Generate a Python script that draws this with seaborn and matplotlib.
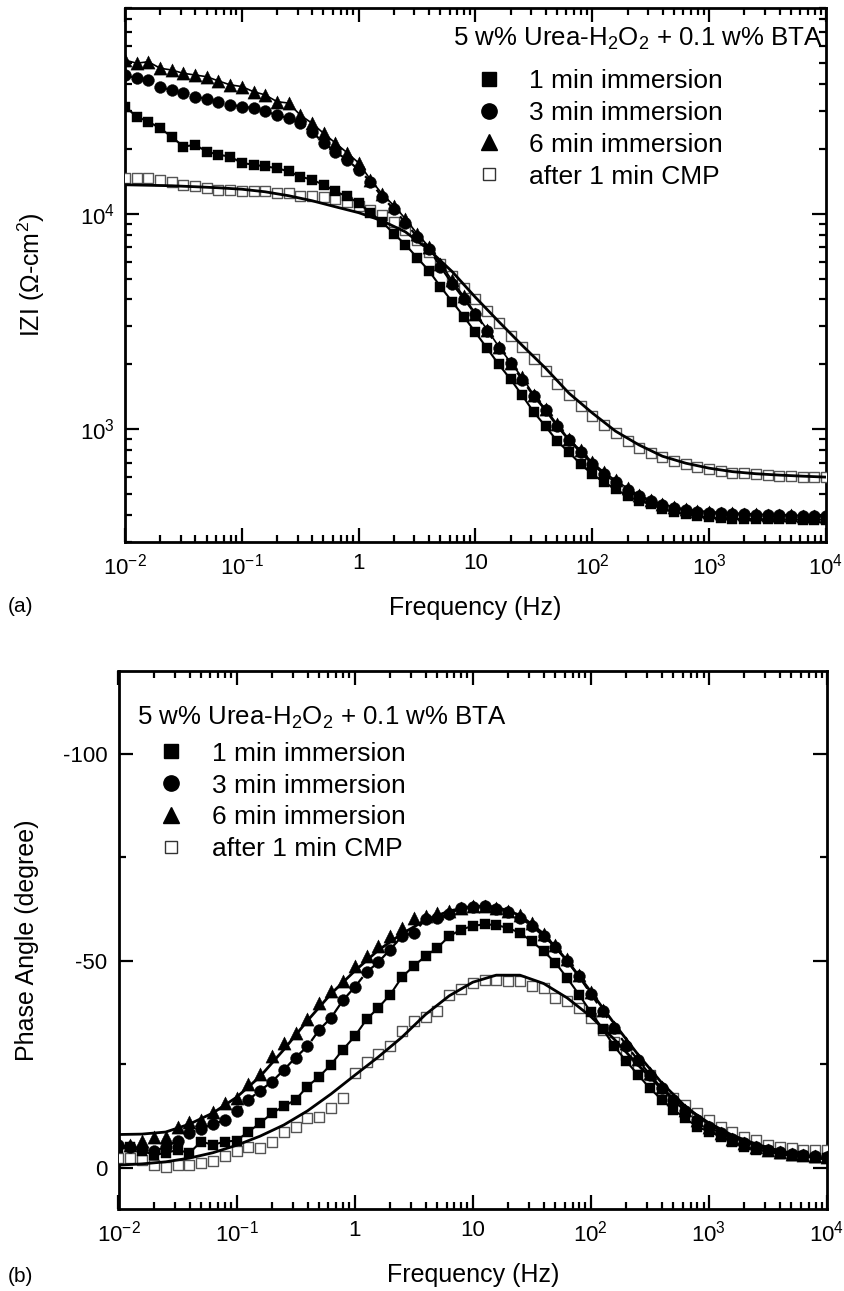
import numpy as np
import pandas as pd
import matplotlib
matplotlib.use("Agg")
import matplotlib.pyplot as plt
import seaborn as sns
from matplotlib.ticker import LogLocator, FixedLocator, FixedFormatter, MultipleLocator, NullFormatter
from matplotlib.lines import Line2D

# ---------------- data ----------------
freq = [0.01, 0.0126, 0.0158, 0.02, 0.0251, 0.0316, 0.0398, 0.0501, 0.0631, 0.0794,
        0.1, 0.126, 0.158, 0.2, 0.251, 0.316, 0.398, 0.501, 0.631, 0.794,
        1.0, 1.26, 1.58, 2.0, 2.51, 3.16, 3.98, 5.01, 6.31, 7.94,
        10.0, 12.6, 15.8, 20.0, 25.1, 31.6, 39.8, 50.1, 63.1, 79.4,
        100, 126, 158, 200, 251, 316, 398, 501, 631, 794,
        1000, 1260, 1580, 2000, 2510, 3160, 3980, 5010, 6310, 7940, 10000]

freq_fit = [0.01, 0.0158, 0.0251, 0.0398, 0.0631, 0.1, 0.158, 0.251, 0.398, 0.631,
            1.0, 1.58, 2.51, 3.98, 6.31, 10.0, 15.8, 25.1, 39.8, 63.1,
            100, 158, 251, 398, 631, 1000, 1580, 2510, 3980, 6310, 10000]

series_labels = ["1 min immersion", "3 min immersion", "6 min immersion", "after 1 min CMP"]
legend_title = "5 w% Urea-H$_2$O$_2$ + 0.1 w% BTA"

# |Z| (ohm-cm2)
z_1min = [31400, 28200, 26750, 24930, 22730, 20490, 20860, 19430, 18760, 18420,
          17170, 16900, 16560, 16280, 15700, 14880, 14370, 13630, 12690, 12030,
          11210, 10110, 9180, 8080, 7190, 6260, 5450, 4590, 3910, 3335,
          2812, 2371, 2000, 1704, 1437, 1199, 1032, 880, 782, 689,
          619, 568, 528, 490, 464, 450, 426, 413, 404, 396,
          391, 387, 385, 384, 383, 383, 382, 382, 381, 381, 381]
z_3min = [44000, 42500, 41700, 38600, 37500, 36200, 34900, 34000, 33100, 32000,
          31400, 30900, 29800, 28700, 27700, 26300, 24000, 21300, 19400, 17800,
          16000, 14100, 12000, 10500, 9090, 7830, 6890, 5680, 4740, 4040,
          3410, 2870, 2370, 2020, 1700, 1420, 1225, 1032, 889, 782,
          689, 619, 568, 522, 490, 464, 445, 431, 422, 415,
          411, 409, 406, 404, 402, 400, 400, 398, 398, 396, 396]
z_6min = [51600, 49900, 50700, 47300, 46400, 44800, 44000, 43200, 41300, 39600,
          38900, 36800, 35600, 33100, 32600, 28700, 26300, 23600, 21300, 19200,
          17200, 14400, 12400, 10900, 9480, 8080, 7040, 5870, 4900, 4130,
          3440, 2900, 2420, 2040, 1740, 1440, 1240, 1054, 899, 799,
          703, 632, 580, 533, 495, 469, 450, 435, 426, 419,
          415, 411, 409, 406, 404, 402, 400, 400, 398, 398, 396]
z_cmp = [14630, 14630, 14600, 14370, 13960, 13620, 13380, 13150, 12920, 12920,
         12680, 12680, 12680, 12470, 12470, 12030, 12030, 11920, 11730, 11370,
         10810, 10440, 9890, 9180, 8430, 7580, 6670, 5870, 5160, 4540,
         4000, 3520, 3100, 2700, 2400, 2110, 1860, 1630, 1440, 1280,
         1150, 1050, 965, 882, 823, 780, 740, 713, 689, 665,
         653, 641, 630, 630, 619, 613, 608, 606, 603, 600, 599]
z_cmp_fit = [13620, 13550, 13480, 13340, 13190, 12990, 12640, 12120, 11490, 10770,
             10110, 9280, 8240, 6810, 5390, 4090, 3160, 2450, 1920, 1470,
             1190, 980, 846, 750, 696, 660, 636, 622, 613, 606, 600]

# phase angle (degree)
p_1min = [-4.7, -5.1, -4.0, -3.1, -3.5, -4.3, -3.5, -6.3, -5.5, -6.3,
          -6.5, -8.7, -10.7, -13.2, -14.8, -16.4, -19.6, -22.0, -24.9, -28.5,
          -31.7, -35.8, -38.6, -41.8, -46.0, -48.7, -51.1, -53.1, -55.9, -57.5,
          -58.4, -58.8, -58.6, -57.9, -56.7, -54.7, -52.3, -49.5, -45.8, -41.8,
          -37.6, -33.5, -29.3, -25.7, -22.4, -19.2, -16.4, -14.0, -11.9, -9.9,
          -8.7, -7.5, -6.3, -5.1, -4.3, -3.9, -3.2, -2.9, -2.7, -2.4, -2.3]
p_3min = [-5.5, -5.0, -4.5, -4.0, -5.0, -6.5, -8.3, -9.4, -10.5, -11.5,
          -13.6, -16.4, -18.6, -20.8, -23.6, -26.6, -29.3, -33.3, -36.2, -40.4,
          -43.6, -47.2, -49.6, -52.7, -55.9, -56.7, -60.0, -60.4, -61.2, -62.8,
          -63.0, -63.2, -62.6, -61.8, -60.4, -58.4, -55.9, -53.3, -49.9, -46.2,
          -42.0, -37.8, -33.7, -29.5, -26.0, -22.5, -19.2, -16.3, -13.7, -11.5,
          -9.8, -8.3, -7.0, -5.9, -5.0, -4.3, -3.7, -3.3, -3.0, -2.7, -2.5]
p_6min = [-6.3, -5.5, -6.5, -7.5, -7.5, -9.9, -11.1, -11.5, -13.5, -15.6,
          -16.8, -20.2, -22.6, -26.9, -30.1, -32.5, -35.8, -39.8, -42.6, -45.0,
          -48.7, -51.1, -53.5, -55.9, -57.9, -60.4, -60.8, -61.6, -62.0, -62.8,
          -63.2, -63.2, -62.8, -62.0, -61.0, -59.0, -56.5, -53.8, -50.3, -46.5,
          -42.5, -38.2, -34.0, -30.0, -26.3, -22.8, -19.5, -16.5, -13.9, -11.6,
          -9.8, -8.3, -7.0, -5.9, -5.0, -4.3, -3.7, -3.3, -3.0, -2.7, -2.5]
p_cmp = [-2.3, -2.3, -1.9, -0.6, -0.2, -0.6, -0.6, -1.0, -1.6, -2.7,
         -3.9, -5.1, -4.7, -6.3, -8.7, -9.9, -11.9, -12.3, -14.5, -16.8,
         -22.8, -25.5, -27.5, -29.5, -33.0, -35.5, -36.5, -37.8, -41.8, -43.2,
         -44.6, -45.4, -45.4, -45.2, -45.0, -43.8, -43.4, -41.0, -40.2, -38.6,
         -36.2, -33.3, -30.4, -27.3, -24.9, -22.4, -18.4, -16.8, -15.2, -13.2,
         -11.5, -9.9, -8.7, -7.5, -6.7, -5.5, -5.1, -4.7, -4.3, -4.3, -4.3]
p_6min_fit = [-8.0, -8.1, -8.6, -10.5, -13.2, -17.0, -22.0, -28.5, -35.5, -42.0,
              -47.5, -52.5, -56.5, -59.8, -62.0, -63.2, -63.0, -61.0, -56.5, -50.0,
              -42.5, -34.8, -27.3, -20.5, -14.8, -10.5, -7.4, -5.4, -4.0, -2.9, -2.1]
p_cmp_fit = [-0.6, -0.9, -1.4, -2.3, -3.6, -5.4, -7.6, -10.3, -13.7, -17.8,
             -22.3, -26.7, -31.5, -37.0, -41.5, -44.8, -46.5, -46.5, -44.5, -41.0,
             -36.5, -31.0, -24.8, -19.0, -14.5, -10.8, -7.8, -5.7, -4.0, -2.9, -2.0]

x_tick_vals = [0.01, 0.1, 1, 10, 100, 1000, 10000]
x_tick_labels = ["10$^{-2}$", "10$^{-1}$", "1", "10", "10$^{2}$", "10$^{3}$", "10$^{4}$"]
ya_tick_vals = [1000, 10000]
ya_tick_labels = ["10$^{3}$", "10$^{4}$"]
yb_tick_vals = [-100, -50, 0]
yb_tick_labels = ["-100", "-50", "0"]

# ---------------- style ----------------
sns.set_theme(style="ticks")
plt.rcParams.update({
    "font.family": ["Liberation Sans", "DejaVu Sans"],
    "mathtext.fontset": "custom",
    "mathtext.rm": "Liberation Sans",
    "mathtext.it": "Liberation Sans:italic",
    "mathtext.bf": "Liberation Sans:bold",
    "axes.unicode_minus": False,
    "axes.linewidth": 2.0,
    "axes.edgecolor": "black",
    "xtick.color": "black",
    "ytick.color": "black",
    "text.color": "black",
    "axes.labelcolor": "black",
    "legend.numpoints": 1,
})

fig = plt.figure(figsize=(8.44, 12.91), dpi=100)
W, H = 844, 1291
ax_a = fig.add_axes([125 / W, 1 - 542 / H, 701 / W, 534 / H])
ax_b = fig.add_axes([118.5 / W, 1 - 1209 / H, 708.5 / W, 538 / H])

mag = pd.DataFrame({"freq": freq, series_labels[0]: z_1min, series_labels[1]: z_3min,
                    series_labels[2]: z_6min, series_labels[3]: z_cmp})
pha = pd.DataFrame({"freq": freq, series_labels[0]: p_1min, series_labels[1]: p_3min,
                    series_labels[2]: p_6min, series_labels[3]: p_cmp})
mag_fit = pd.DataFrame({"freq": freq_fit, "cmp": z_cmp_fit})
pha_fit = pd.DataFrame({"freq": freq_fit, "six": p_6min_fit, "cmp": p_cmp_fit})

marker_map = {series_labels[0]: "s", series_labels[1]: "o", series_labels[2]: "^", series_labels[3]: "s"}
size_map = {series_labels[0]: 62, series_labels[1]: 72, series_labels[2]: 90, series_labels[3]: 62}

for ax in (ax_a, ax_b):
    ax.set_xscale("log")
ax_a.set_yscale("log")


def draw_markers(ax, df):
    for lab in series_labels:
        if lab == series_labels[3]:
            sns.scatterplot(data=df, x="freq", y=lab, marker="s", s=size_map[lab],
                            color="white", facecolor="white", edgecolor="#555555",
                            linewidth=1.0, ax=ax, zorder=3, legend=False)
        else:
            sns.scatterplot(data=df, x="freq", y=lab, marker=marker_map[lab], s=size_map[lab],
                            color="black", edgecolor="black", linewidth=0.3,
                            ax=ax, zorder=4, legend=False)


# panel (a)
draw_markers(ax_a, mag)
sns.lineplot(data=mag, x="freq", y=series_labels[0], color="black", lw=1.5, ax=ax_a,
             sort=False, estimator=None, zorder=5)
sns.lineplot(data=mag, x="freq", y=series_labels[1], color="black", lw=1.6, ax=ax_a,
             sort=False, estimator=None, linestyle=(0, (5, 3)), zorder=5)
sns.lineplot(data=mag, x="freq", y=series_labels[2], color="black", lw=1.2, ax=ax_a,
             sort=False, estimator=None, zorder=5)
sns.lineplot(data=mag_fit, x="freq", y="cmp", color="black", lw=2.0, ax=ax_a,
             sort=False, estimator=None, zorder=5)

# panel (b)
draw_markers(ax_b, pha)
sns.lineplot(data=pha, x="freq", y=series_labels[0], color="black", lw=1.5, ax=ax_b,
             sort=False, estimator=None, zorder=5)
sns.lineplot(data=pha, x="freq", y=series_labels[1], color="black", lw=1.6, ax=ax_b,
             sort=False, estimator=None, linestyle=(0, (5, 3)), zorder=5)
sns.lineplot(data=pha_fit, x="freq", y="six", color="black", lw=2.0, ax=ax_b,
             sort=False, estimator=None, zorder=5)
sns.lineplot(data=pha_fit, x="freq", y="cmp", color="black", lw=2.0, ax=ax_b,
             sort=False, estimator=None, zorder=5)

# axes formatting
TICKFS = 16
LABFS = 18
for ax in (ax_a, ax_b):
    ax.set_xlim(0.01, 10000)
    ax.xaxis.set_major_locator(FixedLocator(x_tick_vals))
    ax.xaxis.set_major_formatter(FixedFormatter(x_tick_labels))
    ax.xaxis.set_minor_locator(LogLocator(base=10, subs=np.arange(2, 10), numticks=20))
    ax.xaxis.set_minor_formatter(NullFormatter())
    ax.tick_params(which="both", direction="in", top=True, right=True, width=1.6,
                   labelsize=TICKFS)
    ax.tick_params(which="major", length=10)
    ax.tick_params(which="minor", length=5)
    ax.tick_params(axis="x", which="major", pad=8)
    ax.set_xlabel("Frequency (Hz)", fontsize=LABFS, labelpad=12)
    for s in ax.spines.values():
        s.set_linewidth(2.0)
        s.set_visible(True)

ax_a.set_ylim(300, 90000)
ax_a.yaxis.set_major_locator(FixedLocator(ya_tick_vals))
ax_a.yaxis.set_major_formatter(FixedFormatter(ya_tick_labels))
ax_a.yaxis.set_minor_locator(LogLocator(base=10, subs=np.arange(2, 10), numticks=20))
ax_a.yaxis.set_minor_formatter(NullFormatter())
ax_a.tick_params(axis="y", which="major", pad=7)
ax_a.set_ylabel("IZI ($\\Omega$-cm$^2$)", fontsize=LABFS, labelpad=24)

ax_b.set_ylim(10, -120)
ax_b.yaxis.set_major_locator(FixedLocator(yb_tick_vals))
ax_b.yaxis.set_major_formatter(FixedFormatter(yb_tick_labels))
ax_b.yaxis.set_minor_locator(MultipleLocator(25))
ax_b.tick_params(axis="y", which="major", pad=8)
ax_b.set_ylabel("Phase Angle (degree)", fontsize=LABFS, labelpad=17)

# legends
def make_handles():
    return [
        Line2D([], [], marker="s", ls="none", color="black", ms=10),
        Line2D([], [], marker="o", ls="none", color="black", ms=11),
        Line2D([], [], marker="^", ls="none", color="black", ms=12),
        Line2D([], [], marker="s", ls="none", mfc="white", mec="#333333", mew=1.0, ms=9),
    ]

LEGFS = 19
leg_a = ax_a.legend(make_handles(), series_labels, title=legend_title, loc="upper left",
                    bbox_to_anchor=((453 - 125) / 701, (542 - 26) / 534), frameon=False,
                    fontsize=LEGFS, title_fontsize=18.6, handlelength=2.75, handletextpad=0.12,
                    labelspacing=0.3, alignment="left", borderpad=0, borderaxespad=0)
leg_a._legend_box.sep = 12.0
leg_b = ax_b.legend(make_handles(), series_labels, title=legend_title, loc="upper left",
                    bbox_to_anchor=((137 - 118.5) / 708.5, (1209 - 705) / 538), frameon=False,
                    fontsize=LEGFS, title_fontsize=18.6, handlelength=2.55, handletextpad=0.3,
                    labelspacing=0.3, alignment="left", borderpad=0, borderaxespad=0)
leg_b._legend_box.sep = 7.5

fig.text(8 / W, 1 - 606 / H, "(a)", fontsize=15, ha="left", va="center")
fig.text(8 / W, 1 - 1277 / H, "(b)", fontsize=15, ha="left", va="center")

fig.savefig("out.png", dpi=100)
